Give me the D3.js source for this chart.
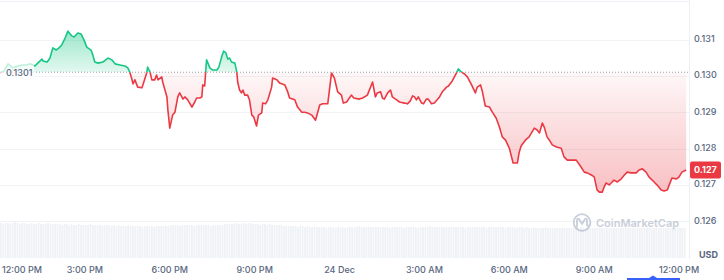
<!DOCTYPE html>
<html><head><meta charset="utf-8">
<script src="https://cdn.jsdelivr.net/npm/d3@7"></script>
<style>
html,body{margin:0;padding:0;background:#fff;}
svg{display:block;font-family:Inter,"Noto Sans",sans-serif;}
</style></head>
<body>
<svg id="chart" width="724" height="280"></svg>
<script>
// ---- data ----
const startTime = new Date(2024, 11, 23, 12, 0);   // 23 Dec, 12:00 PM
const baselinePrice = 0.1301;
const currentPriceLabel = "0.127";
const baselineLabel = "0.1301";
const yTickValues = [0.126, 0.127, 0.128, 0.129, 0.130, 0.131];
const currencyLabel = "USD";

// minutes after start
const minutes = [0,8,17,28,38,47,57,64,74,80,89,91,100,106,112,119,125,131,138,144,152,157,165,172,178,184,193,197,201,208,218,229,237,244,254,265,271,275,280,282,286,292,301,303,311,313,318,322,328,332,335,343,345,354,356,360,366,371,377,381,388,392,398,407,413,417,424,428,430,434,438,445,451,460,464,470,474,479,483,487,491,498,502,504,508,512,515,519,525,529,534,538,544,548,555,557,563,568,576,578,587,593,604,610,614,625,631,640,646,652,661,669,678,684,695,703,709,716,724,728,735,745,750,762,769,779,790,796,800,807,811,815,822,828,832,841,847,858,864,870,875,879,883,887,894,898,904,908,915,921,932,938,947,951,959,968,972,978,985,991,1000,1008,1012,1019,1023,1029,1038,1044,1052,1059,1065,1072,1080,1088,1097,1101,1105,1114,1122,1133,1139,1144,1150,1154,1160,1165,1171,1180,1190,1196,1203,1213,1222,1232,1239,1245,1254,1260,1266,1271,1277,1281,1285,1292,1296,1302,1309,1317,1324,1330,1338,1349,1355,1362,1370,1376,1387,1393,1402,1408,1415,1419,1425,1434,1440,1446,1455];
const prices = [0.13008,0.13013,0.13033,0.13022,0.13027,0.13030,0.13030,0.13033,0.13027,0.13035,0.13046,0.13041,0.13038,0.13049,0.13077,0.13071,0.13077,0.13085,0.13104,0.13123,0.13110,0.13107,0.13118,0.13115,0.13099,0.13079,0.13071,0.13057,0.13038,0.13035,0.13038,0.13049,0.13044,0.13033,0.13030,0.13027,0.13022,0.13011,0.12989,0.12978,0.12989,0.12969,0.12967,0.12975,0.13008,0.13024,0.13011,0.12989,0.12989,0.13002,0.12989,0.12997,0.12983,0.12942,0.12906,0.12856,0.12892,0.12900,0.12942,0.12953,0.12936,0.12942,0.12934,0.12914,0.12928,0.12939,0.12939,0.12942,0.12975,0.12972,0.13044,0.13022,0.13016,0.13016,0.13024,0.13052,0.13068,0.13063,0.13046,0.13049,0.13038,0.13035,0.13011,0.12983,0.12961,0.12953,0.12961,0.12947,0.12947,0.12934,0.12892,0.12887,0.12862,0.12892,0.12898,0.12925,0.12923,0.12934,0.12969,0.12994,0.12989,0.12980,0.12975,0.12956,0.12939,0.12934,0.12914,0.12900,0.12900,0.12898,0.12892,0.12878,0.12920,0.12923,0.12923,0.13008,0.12994,0.12956,0.12947,0.12925,0.12928,0.12947,0.12939,0.12936,0.12939,0.12947,0.12983,0.12942,0.12953,0.12956,0.12939,0.12936,0.12953,0.12961,0.12942,0.12934,0.12928,0.12925,0.12923,0.12931,0.12945,0.12942,0.12934,0.12942,0.12925,0.12923,0.12936,0.12936,0.12923,0.12925,0.12942,0.12956,0.12969,0.12972,0.12986,0.13008,0.13019,0.13011,0.13005,0.12997,0.12975,0.12953,0.12969,0.12975,0.12956,0.12917,0.12914,0.12900,0.12884,0.12859,0.12832,0.12823,0.12801,0.12760,0.12760,0.12790,0.12807,0.12823,0.12832,0.12856,0.12851,0.12843,0.12870,0.12859,0.12832,0.12823,0.12810,0.12804,0.12801,0.12777,0.12768,0.12768,0.12768,0.12749,0.12735,0.12733,0.12727,0.12722,0.12686,0.12680,0.12680,0.12694,0.12705,0.12700,0.12705,0.12713,0.12708,0.12716,0.12727,0.12735,0.12733,0.12733,0.12741,0.12744,0.12735,0.12722,0.12708,0.12700,0.12686,0.12683,0.12686,0.12700,0.12719,0.12716,0.12722,0.12735,0.12741];

// volume (millions USD), one bar every 5 minutes
const volumeStepMinutes = 5;
const volumes = [
3.5,3.4,3.5,3.5,3.4,3.5,3.6,3.5,3.4,3.5,3.5,3.4,3.4,3.5,3.4,3.4,3.5,3.4,3.4,3.4,3.5,3.4,3.4,3.4,
3.4,3.4,3.3,3.4,3.4,3.3,3.4,3.3,3.3,3.4,3.3,3.3,3.3,3.3,3.4,3.3,3.3,3.3,3.3,3.2,3.3,3.3,3.3,3.2,
3.3,3.2,3.3,3.2,3.2,3.2,3.3,3.2,3.2,3.2,3.2,3.2,3.1,3.2,3.2,3.2,3.2,3.1,3.2,3.2,3.2,3.2,3.2,3.2,
3.3,3.3,3.3,3.3,3.2,3.3,3.3,3.3,3.3,3.3,3.2,3.3,3.3,3.3,3.3,3.3,3.3,3.2,3.3,3.3,3.3,3.3,3.3,3.4,
3.4,3.4,3.4,3.4,3.5,3.4,3.4,3.5,3.4,3.5,3.5,3.4,3.4,3.4,3.3,3.4,3.4,3.3,3.4,3.3,3.3,3.3,3.3,3.3,
3.2,3.2,3.2,3.2,3.2,3.2,3.1,3.2,3.2,3.1,3.2,3.1,3.1,3.1,3.1,3.1,3.1,3.1,3.0,3.1,3.1,3.1,3.0,3.1,
3.1,3.1,3.0,3.1,3.1,3.1,3.1,3.1,3.2,3.1,3.1,3.1,3.1,3.1,3.1,3.1,3.1,3.1,3.1,3.1,3.1,3.0,3.1,3.1,
3.1,3.1,3.1,3.0,3.1,3.1,3.1,3.1,3.1,3.0,3.1,3.1,3.1,3.1,3.2,3.1,3.1,3.1,3.1,3.1,3.1,3.1,3.1,3.1,
3.1,3.1,3.1,3.1,3.1,3.0,3.1,3.1,3.1,3.1,3.1,3.1,3.1,3.1,3.0,3.1,3.1,3.1,3.1,3.1,3.1,3.1,3.0,3.1,
3.1,3.1,3.0,3.1,3.1,3.1,3.0,3.1,3.0,3.0,3.1,3.0,3.0,3.0,3.0,3.1,3.0,3.0,3.0,3.0,3.0,3.0,3.0,3.0,
3.0,3.0,3.0,3.0,3.0,3.0,3.1,3.0,3.0,3.0,3.0,3.0,3.0,3.0,3.0,3.0,3.0,3.0,3.0,3.0,3.0,3.0,3.0,3.0,
3.0,3.0,3.0,3.0,3.0,3.0,3.0,3.0,3.0,3.0,3.0,3.0,3.0,3.0,3.0,3.0,3.0,3.0,3.0,3.0,3.0,3.0,3.0,3.0,
3.0,3.0,3.0];

// ---- layout ----
const W = 724, H = 280;
const plotRight = 689;
const GREEN = "#16c784", RED = "#ea3943", TEXT = "#58667e";

const data = minutes.map((m, i) => ({t: d3.timeMinute.offset(startTime, m), p: prices[i]}));
const endTime = d3.timeMinute.offset(startTime, 1461);

const x = d3.scaleTime().domain([startTime, endTime]).range([0, plotRight]);
const y = d3.scaleLinear().domain([0.126, 0.131]).range([221.2, 39.5]);
const yv = d3.scaleLinear().domain([0, 3.6]).range([258, 222]);

const svg = d3.select("#chart");
const defs = svg.append("defs");
const by = y(baselinePrice);

const gG = defs.append("linearGradient").attr("id","gG").attr("gradientUnits","userSpaceOnUse")
  .attr("x1",0).attr("x2",0).attr("y1",y(0.1312)).attr("y2",by);
gG.append("stop").attr("offset",0).attr("stop-color",GREEN).attr("stop-opacity",0.42);
gG.append("stop").attr("offset",1).attr("stop-color",GREEN).attr("stop-opacity",0.12);
const gR = defs.append("linearGradient").attr("id","gR").attr("gradientUnits","userSpaceOnUse")
  .attr("x1",0).attr("x2",0).attr("y1",by).attr("y2",y(0.1268));
gR.append("stop").attr("offset",0).attr("stop-color",RED).attr("stop-opacity",0.04);
gR.append("stop").attr("offset",1).attr("stop-color",RED).attr("stop-opacity",0.32);

defs.append("clipPath").attr("id","cAbove").append("rect").attr("x",0).attr("y",0).attr("width",plotRight).attr("height",by);
defs.append("clipPath").attr("id","cBelow").append("rect").attr("x",0).attr("y",by).attr("width",plotRight).attr("height",H-by);

// gridlines
svg.append("g").selectAll("line").data(yTickValues).join("line")
  .attr("x1",0).attr("x2",plotRight).attr("y1",d=>Math.round(y(d))+0.5).attr("y2",d=>Math.round(y(d))+0.5)
  .attr("stroke","#f1f3f6").attr("stroke-width",1);
// top border and right border
svg.append("line").attr("x1",0).attr("x2",plotRight).attr("y1",1.5).attr("y2",1.5).attr("stroke","#eceff3");
svg.append("line").attr("x1",plotRight+0.5).attr("x2",plotRight+0.5).attr("y1",0).attr("y2",259).attr("stroke","#eceff3");

// volume bars
const bw = x(d3.timeMinute.offset(startTime, volumeStepMinutes)) - x(startTime);
svg.append("g").selectAll("rect").data(volumes).join("rect")
  .attr("x",(d,i)=>x(d3.timeMinute.offset(startTime, i*volumeStepMinutes)))
  .attr("y",d=>yv(d)).attr("width",bw-0.6).attr("height",d=>yv(0)-yv(d))
  .attr("fill","#eef1f5");

// areas
const area = d3.area().x(d=>x(d.t)).y0(by).y1(d=>y(d.p));
svg.append("path").datum(data).attr("d",area).attr("fill","url(#gG)").attr("clip-path","url(#cAbove)");
svg.append("path").datum(data).attr("d",area).attr("fill","url(#gR)").attr("clip-path","url(#cBelow)");

// dotted baseline
svg.append("line").attr("x1",0).attr("x2",plotRight).attr("y1",by).attr("y2",by)
  .attr("stroke","#9aa3b0").attr("stroke-width",1).attr("stroke-dasharray","1,2");

// line
const line = d3.line().x(d=>x(d.t)).y(d=>y(d.p));
svg.append("path").datum(data).attr("d",line).attr("fill","none").attr("stroke",GREEN)
  .attr("stroke-width",1.6).attr("stroke-linejoin","round").attr("clip-path","url(#cAbove)");
svg.append("path").datum(data).attr("d",line).attr("fill","none").attr("stroke",RED)
  .attr("stroke-width",1.6).attr("stroke-linejoin","round").attr("clip-path","url(#cBelow)");

// baseline label box
svg.append("rect").attr("x",0).attr("y",by-14).attr("width",34).attr("height",24).attr("fill","#fff").attr("opacity",0.72);
svg.append("text").attr("x",6).attr("y",by+1).attr("dominant-baseline","middle")
  .attr("font-size",9).attr("font-weight",500).attr("fill",TEXT).text(baselineLabel);

// y axis labels
const fmt = d3.format(".3f");
svg.append("g").selectAll("text").data(yTickValues).join("text")
  .attr("x",694).attr("y",d=>y(d)).attr("dominant-baseline","middle")
  .attr("font-size",9).attr("font-weight",500).attr("fill",TEXT).text(d=>fmt(d));

// current price badge
const last = data[data.length-1];
svg.append("rect").attr("x",690).attr("y",y(last.p)-8.5).attr("width",31).attr("height",17).attr("rx",2).attr("fill",RED);
svg.append("text").attr("x",694).attr("y",y(last.p)+0.5).attr("dominant-baseline","middle")
  .attr("font-size",9).attr("font-weight",700).attr("fill","#fff").text(currentPriceLabel);

// x axis labels
const xTicks = d3.timeHour.every(3).range(startTime, endTime);
const tfmt = d => (d.getHours()===0 ? d3.timeFormat("%-d %b")(d) : d3.timeFormat("%-I:%M %p")(d));
svg.append("g").selectAll("text").data(xTicks).join("text")
  .attr("x",(d,i)=> i===0 ? 2 : x(d)).attr("y",271).attr("dominant-baseline","middle")
  .attr("text-anchor",(d,i)=> i===0 ? "start" : "middle")
  .attr("font-size",9).attr("font-weight",500).attr("fill",TEXT).text(tfmt);

// USD
svg.append("text").attr("x",718).attr("y",256).attr("text-anchor","end").attr("dominant-baseline","middle")
  .attr("font-size",9).attr("font-weight",700).attr("fill",TEXT).text(currencyLabel);

// watermark
const wm = svg.append("g").attr("opacity",0.6);
wm.append("circle").attr("cx",582).attr("cy",222.5).attr("r",8.3).attr("fill","none").attr("stroke","#a6b0c3").attr("stroke-width",1.8);
wm.append("path").attr("d","M577,227 L577,221 Q577,218 579,219 L582,224 L585,219 Q587,218 587,221 L587,225 Q588,227 590,225")
  .attr("fill","none").attr("stroke","#a6b0c3").attr("stroke-width",1.8).attr("stroke-linecap","round").attr("stroke-linejoin","round");
wm.append("text").attr("x",596).attr("y",224).attr("dominant-baseline","middle")
  .attr("font-size",11).attr("font-weight",600).attr("fill","#a6b0c3").text("CoinMarketCap");

// navigator handle
svg.append("rect").attr("x",627).attr("y",278).attr("width",53).attr("height",2).attr("fill","#3861fb");
svg.append("path").attr("d","M649,278 L653,275.5 L657,278 Z").attr("fill","#3861fb");
</script>
</body></html>
